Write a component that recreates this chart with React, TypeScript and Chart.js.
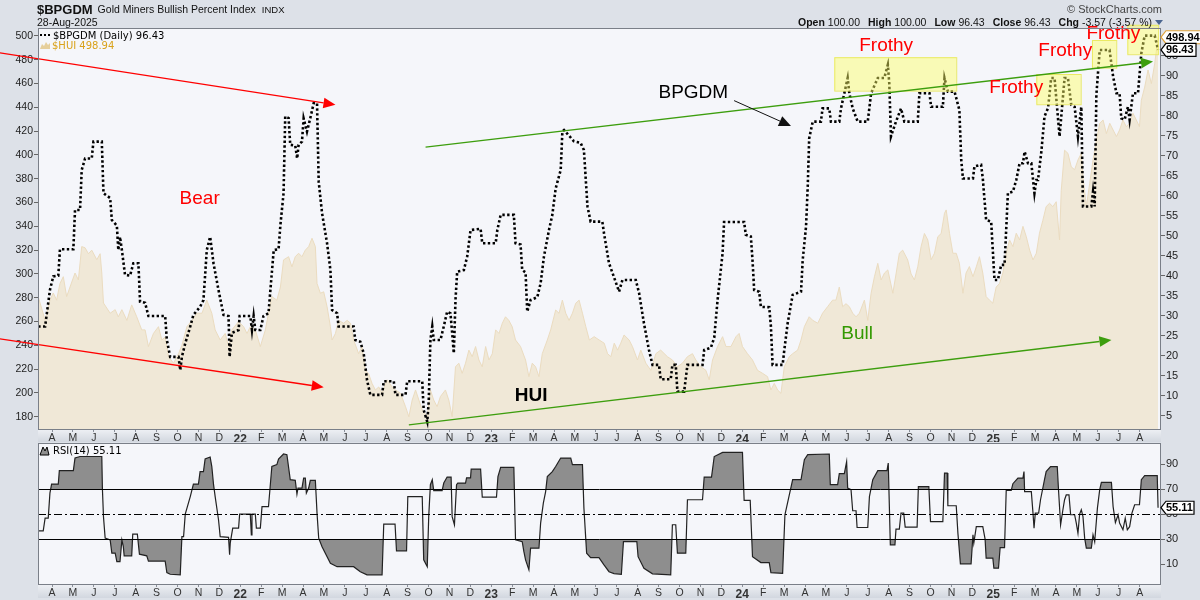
import React, { useEffect, useRef } from 'react';
import { Chart, registerables } from 'chart.js';

Chart.register(...registerables);

// ---------- data (x = months since Jan 2021) ----------
const X_MIN = 2.33;
const X_MAX = 56.02;
const monthLetters = ['J', 'F', 'M', 'A', 'M', 'J', 'J', 'A', 'S', 'O', 'N', 'D'];
const monthTicks: number[] = [];
for (let m = 3; m <= 55; m++) monthTicks.push(m);

const huiTicks = [180, 200, 220, 240, 260, 280, 300, 320, 340, 360, 380, 400, 420, 440, 460, 480, 500];
const bpgdmTicks = [5, 10, 15, 20, 25, 30, 35, 40, 45, 50, 55, 60, 65, 70, 75, 80, 85, 90, 95];
const rsiTicks = [10, 30, 50, 70, 90];
const rsiLevels = [30, 50, 70];

const bpgdmSeries: [number, number][] = [
  [2.34, 27.3], [2.67, 27.3], [2.9, 36.4], [3.06, 39.8], [3.3, 40], [3.38, 46.6], [4.02, 46.6], [4.1, 56.4], [4.34, 56.4],
  [4.42, 66.4], [4.58, 69.3], [4.9, 69.3], [4.98, 73.5], [5.38, 73.5], [5.46, 60.6], [5.78, 59.4], [5.86, 53.9], [6.1, 52.5],
  [6.17, 46.4], [6.25, 49.7], [6.34, 46.4], [6.49, 40.2], [6.73, 40], [6.89, 43.1], [7.13, 43.1], [7.21, 33.5], [7.45, 33.2],
  [7.61, 29.9], [8.41, 29.9], [8.49, 23.9], [8.65, 19.7], [9.05, 19.7], [9.13, 16.4], [9.21, 19.7], [9.37, 23.1], [9.61, 27.3],
  [9.76, 30.2], [10.08, 32.2], [10.24, 33.9], [10.4, 46.4], [10.56, 49.7], [10.72, 43.1], [10.96, 36.4], [11.2, 30.2],
  [11.44, 29.9], [11.49, 19.7], [11.6, 25.7], [11.92, 26.4], [11.97, 29.9], [12.48, 29.9], [12.56, 26.4], [12.64, 29.9],
  [12.72, 26.4], [12.96, 26.4], [13.11, 29.9], [13.35, 30.6], [13.44, 36.4], [13.6, 46.4], [13.83, 46.6], [13.92, 52.7],
  [14.07, 60.6], [14.15, 79.8], [14.31, 79.4], [14.39, 72.7], [14.63, 72.5], [14.72, 69.3], [14.79, 72.7], [14.95, 73.5],
  [15.03, 79.3], [15.19, 76], [15.35, 79.4], [15.51, 83.1], [15.67, 83.1], [15.75, 63.5], [15.91, 55.6], [16.15, 48.1],
  [16.31, 41.4], [16.39, 31.4], [16.63, 30.6], [16.7, 27.3], [17.42, 27.3], [17.5, 23.9], [17.74, 23.5], [17.9, 20.6],
  [18.06, 13.9], [18.22, 10.2], [18.78, 10.2], [18.86, 13.6], [19.34, 13.6], [19.42, 10.2], [19.9, 10.2], [19.98, 13.6],
  [20.7, 13.6], [20.77, 6.4], [20.94, 3.5], [21.01, 8.5], [21.09, 23.9], [21.18, 27.3], [21.25, 23.9], [21.57, 23.9],
  [21.73, 27.3], [21.89, 31], [22.05, 30.6], [22.13, 25.7], [22.21, 20.6], [22.29, 33.9], [22.37, 41], [22.69, 41.4],
  [22.85, 44.8], [23.01, 51.4], [23.49, 51.7], [23.57, 48.1], [24.21, 48.1], [24.29, 51.4], [24.45, 55.2], [25.08, 55.2],
  [25.16, 48.1], [25.4, 47.8], [25.48, 41.4], [25.64, 40.8], [25.72, 31], [25.88, 33.9], [26.2, 34.6], [26.36, 38.1],
  [26.52, 44.8], [26.76, 51.4], [26.92, 55.2], [27.08, 61.8], [27.32, 66.4], [27.4, 76], [27.48, 76.4], [27.95, 73.6],
  [28.27, 73.2], [28.43, 71.4], [28.6, 57.3], [28.75, 53.5], [29.31, 53.5], [29.39, 50.6], [29.63, 43.1], [29.87, 39.6],
  [30.11, 36], [30.27, 38.9], [30.91, 38.9], [31.07, 35.6], [31.3, 28.1], [31.54, 21.4], [31.71, 17.7], [32.02, 17.7],
  [32.1, 14.1], [32.58, 14.1], [32.66, 17.7], [32.82, 17.7], [32.9, 11], [33.22, 11], [33.38, 17.7], [34.1, 17.7],
  [34.18, 21.4], [34.5, 22], [34.66, 24.5], [34.82, 33.9], [35.06, 45.6], [35.13, 53.4], [36.09, 53.4], [36.17, 50.2],
  [36.41, 49.8], [36.49, 43.9], [36.57, 36.4], [36.81, 36], [36.89, 32.2], [37.29, 32.1], [37.37, 27.3], [37.45, 17.7],
  [37.93, 17.7], [38.01, 21.4], [38.17, 28.1], [38.41, 35.2], [38.81, 36], [38.89, 43.9], [39.05, 52.3], [39.13, 62.2],
  [39.2, 74.3], [39.37, 78.5], [39.76, 78.5], [39.84, 81.8], [40.16, 81.8], [40.24, 78.5], [40.64, 78.5], [40.72, 81.8],
  [40.88, 85.6], [41.04, 89.4], [41.12, 85.6], [41.28, 81.8], [41.52, 78.5], [42.0, 78.5], [42.16, 85.6], [42.48, 89.4],
  [42.79, 89.4], [42.96, 92.7], [43.03, 88], [43.11, 74.8], [43.35, 78.5], [43.59, 81.8], [43.75, 78.5], [44.39, 78.5],
  [44.47, 85.6], [44.95, 85.6], [45.03, 82.2], [45.59, 82.2], [45.67, 89.4], [45.83, 86], [46.15, 86], [46.38, 81.4],
  [46.47, 68.9], [46.55, 64.3], [47.03, 64.3], [47.1, 67.3], [47.42, 67.7], [47.5, 64.3], [47.66, 53.9], [47.9, 53.5],
  [48.06, 38.9], [48.22, 38.9], [48.38, 42.7], [48.54, 42.7], [48.7, 60.6], [48.94, 61], [49.1, 63.9], [49.26, 68.1],
  [49.42, 68.1], [49.5, 71], [49.66, 68.1], [49.82, 68.1], [49.97, 60.6], [50.06, 63.9], [50.14, 63.9], [50.3, 71],
  [50.45, 79.8], [50.62, 81.9], [50.77, 89.4], [50.93, 89.4], [51.17, 74.8], [51.41, 89.4], [51.57, 89.4], [51.73, 82.7],
  [51.89, 82.2], [52.05, 74.8], [52.21, 82.2], [52.29, 57.3], [52.69, 57.3], [52.77, 61], [52.85, 57.3], [52.93, 85.2],
  [53.09, 96.4], [53.56, 96.4], [53.73, 89.8], [53.89, 85.6], [54.04, 85.6], [54.12, 79.3], [54.28, 79], [54.44, 82.2],
  [54.52, 79], [54.68, 85.6], [54.92, 85.6], [55.08, 95.6], [55.24, 100], [55.72, 100], [55.88, 96.43],
];

const huiSeries: [number, number][] = [
  [2.34, 281], [2.67, 261], [2.9, 278], [3.06, 284], [3.22, 278], [3.38, 292], [3.54, 297.7], [3.7, 281], [3.86, 289],
  [4.1, 300.8], [4.26, 295], [4.42, 323], [4.58, 322], [4.74, 317], [4.9, 320], [5.14, 312], [5.3, 317], [5.38, 300.8],
  [5.46, 275.6], [5.78, 267], [6.02, 270], [6.17, 264], [6.34, 270], [6.58, 261], [6.81, 274], [7.05, 264], [7.29, 253],
  [7.45, 253], [7.61, 239], [7.85, 250], [8.09, 255.7], [8.25, 244.5], [8.41, 247], [8.57, 230.5], [8.81, 225], [9.05, 233],
  [9.21, 240], [9.45, 255.7], [9.69, 261], [9.93, 267], [10.17, 267], [10.4, 278], [10.64, 267], [10.8, 253], [11.04, 244.5],
  [11.28, 250], [11.44, 239], [11.6, 253], [11.92, 260], [12.16, 255.7], [12.32, 250], [12.48, 255.7], [12.72, 253],
  [12.96, 239], [13.2, 253], [13.35, 267], [13.51, 281], [13.75, 278], [13.92, 289], [14.07, 311.8], [14.31, 314.5],
  [14.47, 306], [14.63, 314.5], [14.79, 317.4], [14.95, 314.5], [15.11, 320], [15.27, 323], [15.43, 330], [15.59, 323],
  [15.67, 292], [15.83, 283.8], [15.99, 285], [16.15, 272.5], [16.31, 255.7], [16.39, 244.5], [16.55, 250], [16.7, 261],
  [16.94, 258.6], [17.11, 261], [17.27, 258.6], [17.42, 244.5], [17.66, 233], [17.82, 239], [17.98, 219], [18.14, 216],
  [18.3, 208], [18.46, 202.5], [18.62, 205], [18.78, 200], [19.02, 211], [19.26, 205], [19.42, 202.5], [19.66, 199.7],
  [19.9, 188.5], [20.06, 180], [20.22, 194], [20.38, 202.5], [20.54, 194], [20.7, 185.7], [20.94, 180], [21.09, 202.5],
  [21.25, 194], [21.41, 188.5], [21.57, 197], [21.81, 202.5], [21.97, 194], [22.13, 180], [22.29, 222], [22.45, 225],
  [22.61, 216.5], [22.77, 225], [22.93, 236], [23.09, 230.5], [23.25, 239], [23.41, 227.7], [23.57, 222], [23.73, 239],
  [23.89, 227.7], [24.05, 233], [24.21, 253], [24.37, 250], [24.53, 258.6], [24.68, 264], [24.84, 261], [25.0, 255.7],
  [25.16, 244.5], [25.4, 239], [25.64, 227.7], [25.8, 213.7], [25.96, 225], [26.12, 222], [26.28, 213.7], [26.44, 233],
  [26.68, 244.5], [26.84, 253], [27.08, 269.7], [27.24, 267], [27.4, 278], [27.56, 267], [27.72, 261], [27.88, 267],
  [28.04, 275.4], [28.2, 278], [28.36, 267], [28.52, 255.7], [28.69, 244.5], [28.92, 247.3], [29.16, 244.5], [29.4, 241.8],
  [29.56, 233], [29.72, 230.5], [29.88, 241.8], [30.04, 236], [30.19, 241.8], [30.35, 248.7], [30.59, 244.5], [30.75, 239],
  [30.99, 227.7], [31.15, 236], [31.39, 225], [31.63, 219], [31.87, 233], [32.1, 236], [32.42, 230.5], [32.66, 227.7],
  [32.9, 222], [33.14, 225], [33.38, 230.5], [33.62, 233], [33.78, 227.7], [34.02, 222], [34.26, 219], [34.42, 211],
  [34.58, 227.7], [34.82, 239], [35.06, 247.3], [35.22, 239], [35.46, 239], [35.7, 247.3], [35.85, 250], [36.01, 239],
  [36.25, 233], [36.49, 227.7], [36.73, 219], [36.97, 216.5], [37.21, 213.7], [37.37, 202.5], [37.53, 208], [37.69, 202.5],
  [37.85, 199.7], [38.01, 222], [38.25, 230.5], [38.41, 233], [38.65, 236], [38.81, 244.5], [38.97, 255.7], [39.2, 264],
  [39.37, 261], [39.61, 258.6], [39.84, 267], [40.08, 272.5], [40.32, 278], [40.48, 278], [40.64, 289], [40.8, 272.5],
  [40.96, 275], [41.12, 272.5], [41.28, 267], [41.44, 264], [41.6, 267], [41.84, 278], [42.0, 261], [42.16, 283.8],
  [42.32, 297.7], [42.48, 308.9], [42.64, 295], [42.8, 300.8], [42.96, 303.4], [43.2, 283.8], [43.36, 300.8], [43.51, 317.4],
  [43.67, 320], [43.91, 311.8], [44.07, 300], [44.23, 295], [44.39, 306], [44.55, 323], [44.71, 334], [44.87, 328.6],
  [45.03, 312], [45.19, 317.4], [45.35, 331.3], [45.51, 334], [45.67, 351], [45.75, 353.8], [45.91, 334], [46.07, 317.4],
  [46.23, 317.4], [46.38, 309], [46.55, 283.8], [46.7, 300.8], [46.86, 306.2], [47.03, 297.7], [47.19, 306], [47.34, 314.5],
  [47.5, 300.8], [47.66, 281], [47.82, 278], [47.98, 275.4], [48.14, 289], [48.3, 292], [48.46, 300.8], [48.62, 317.4],
  [48.78, 328.6], [48.94, 323], [49.1, 334.2], [49.26, 328.6], [49.42, 340], [49.58, 331.3], [49.74, 320], [49.9, 311.8],
  [50.06, 317.4], [50.21, 334.2], [50.37, 345], [50.53, 356.6], [50.69, 359.4], [50.85, 356.6], [51.01, 360.7],
  [51.17, 328.6], [51.25, 370], [51.41, 404], [51.57, 401.4], [51.73, 390], [51.89, 387.6], [52.05, 395.8], [52.21, 401.4],
  [52.29, 382], [52.45, 356.6], [52.61, 376], [52.77, 395.8], [52.93, 412], [53.09, 426.6], [53.25, 429.4], [53.41, 418],
  [53.57, 426.6], [53.73, 421], [53.89, 415.5], [54.04, 421], [54.2, 429.4], [54.36, 423.8], [54.52, 426.6], [54.68, 435],
  [54.84, 429.4], [54.99, 423.8], [55.08, 446], [55.24, 457], [55.4, 471.4], [55.56, 460], [55.72, 477], [55.88, 498.94],
];

const rsiSeries: [number, number][] = [
  [2.34, 36.7], [2.58, 36.7], [2.67, 46.8], [2.82, 46.8], [2.9, 66.8], [2.98, 74], [3.3, 74], [3.35, 84.7], [4.02, 84.7],
  [4.1, 94.8], [4.34, 96], [5.38, 96], [5.41, 70], [5.46, 48], [5.54, 30.8], [5.78, 29.3], [5.86, 18.8], [6.02, 18.8],
  [6.1, 12], [6.25, 12], [6.34, 29.3], [6.41, 24], [6.45, 16.7], [6.81, 16.7], [6.86, 34], [7.08, 34], [7.18, 18],
  [7.53, 16.7], [7.61, 12.5], [8.41, 12.5], [8.49, 3.3], [8.65, 2], [9.13, 1.5], [9.21, 32], [9.29, 32], [9.37, 50],
  [9.61, 64], [9.76, 74], [10.0, 74], [10.08, 84], [10.24, 84], [10.32, 94], [10.56, 95.6], [10.64, 88], [10.72, 74],
  [10.8, 64], [10.96, 45.5], [11.04, 32], [11.44, 31.5], [11.49, 17.5], [11.52, 26.8], [11.64, 38.8], [11.92, 38.8],
  [11.97, 50], [12.48, 50], [12.53, 33.5], [12.56, 50], [12.72, 50], [12.77, 38.8], [12.96, 38.8], [13.04, 56],
  [13.35, 56], [13.44, 74], [13.51, 88], [13.75, 89.5], [13.83, 94], [14.07, 98], [14.23, 97.5], [14.39, 77.5],
  [14.63, 77], [14.71, 66], [14.76, 70.8], [14.95, 70.8], [15.03, 78.8], [15.11, 78.8], [15.16, 66.8], [15.27, 70.8],
  [15.35, 77], [15.59, 77], [15.67, 50.8], [15.75, 30.8], [15.91, 24], [16.31, 10.8], [16.63, 8], [17.42, 8], [17.74, 4],
  [18.06, 1.5], [18.78, 1.5], [18.86, 42], [19.4, 42], [19.47, 20.7], [19.95, 20.7], [20.01, 64], [20.7, 64],
  [20.77, 13.5], [20.94, 8], [21.01, 48], [21.09, 73.5], [21.18, 77.5], [21.25, 68.7], [21.65, 68.7], [21.73, 74.8],
  [21.89, 79.6], [22.08, 79.6], [22.13, 48], [22.24, 41.5], [22.34, 73.5], [22.4, 74.8], [22.77, 74.8], [22.82, 79],
  [23.01, 79], [23.04, 86], [23.49, 86], [23.57, 63.6], [24.25, 63.6], [24.32, 80], [24.45, 87.3], [25.08, 87.3],
  [25.16, 29.5], [25.48, 28], [25.56, 20], [25.64, 13.5], [25.8, 5.5], [25.88, 22.8], [26.28, 22.8], [26.36, 42.8],
  [26.49, 58.8], [26.6, 68], [26.68, 80], [26.92, 84], [27.08, 88], [27.32, 94.8], [27.8, 94.8], [27.88, 89.5],
  [28.36, 89.5], [28.43, 54.8], [28.56, 18.8], [28.75, 15.3], [29.15, 15.3], [29.39, 9.5], [29.63, 4], [29.87, 2.5],
  [30.22, 2], [30.32, 28], [30.96, 28], [31.02, 16], [31.3, 6.8], [31.71, 2.3], [32.58, 1.5], [32.66, 41.5], [32.82, 41.5],
  [32.9, 18.8], [33.3, 18.8], [33.38, 61.5], [34.1, 61.5], [34.18, 79.6], [34.53, 79.6], [34.66, 96], [35.06, 99.3],
  [36.01, 99.3], [36.09, 61], [36.38, 61], [36.49, 16], [36.89, 11.3], [37.29, 11.3], [37.37, 3.3], [37.93, 2.7],
  [38.04, 49.5], [38.2, 61.5], [38.41, 77.5], [38.81, 77.5], [38.97, 93.5], [39.13, 97.5], [40.16, 98], [40.21, 73.5],
  [40.56, 73.5], [40.64, 82.3], [40.88, 82.3], [40.99, 91.9], [41.04, 70.8], [41.2, 69.5], [41.28, 52.7], [41.44, 52.7],
  [41.49, 39.3], [42.0, 39.3], [42.08, 64], [42.24, 77.5], [42.48, 84.7], [42.92, 84.7], [42.98, 90.8], [43.08, 25.5],
  [43.3, 25.5], [43.35, 38], [43.51, 38], [43.59, 50.8], [43.72, 50.8], [43.79, 39.6], [44.36, 39.6], [44.42, 72],
  [44.92, 72], [45.0, 44], [45.59, 44], [45.67, 82.8], [45.8, 82.8], [45.83, 56.7], [46.23, 56.7], [46.31, 34.8],
  [46.43, 10.3], [46.94, 10.3], [47.03, 33.5], [47.07, 26.8], [47.19, 40], [47.5, 40], [47.61, 30], [47.66, 14.8],
  [47.98, 14.8], [48.03, 6.8], [48.25, 6.8], [48.33, 23.3], [48.54, 23.3], [48.62, 69], [48.86, 69], [48.94, 74.3],
  [49.18, 78.8], [49.42, 78.8], [49.47, 84], [49.5, 68], [49.82, 68], [49.9, 50.8], [49.95, 38.8], [50.01, 50.8],
  [50.17, 50.8], [50.26, 61.5], [50.45, 77.5], [50.53, 84], [50.74, 88], [51.06, 88], [51.12, 69.5], [51.22, 41.5],
  [51.33, 53.5], [51.41, 61.5], [51.49, 65.3], [51.62, 65.3], [51.7, 49.5], [51.89, 49.5], [51.97, 42.8], [52.05, 34.8],
  [52.13, 50], [52.21, 53.5], [52.29, 48], [52.37, 30.8], [52.45, 22.8], [52.69, 22.8], [52.77, 33.5], [52.85, 28],
  [52.98, 54.8], [53.09, 69.5], [53.17, 75.3], [53.65, 75.3], [53.73, 56], [53.84, 43.3], [53.97, 49.5], [54.04, 42.8],
  [54.2, 37.5], [54.31, 46.8], [54.41, 37.5], [54.52, 40], [54.63, 50.8], [54.76, 57.5], [54.99, 57.5], [55.08, 77.5],
  [55.24, 80.7], [55.84, 80.7], [55.88, 55.11],
];

// ---------- text ----------
const titleSymbol = '$BPGDM';
const titleName = 'Gold Miners Bullish Percent Index';
const titleExchange = 'INDX';
const dateText = '28-Aug-2025';
const copyright = '\u00A9 StockCharts.com';
const ohlcLabels = ['Open', 'High', 'Low', 'Close', 'Chg'];
const ohlcValues = ['100.00', '100.00', '96.43', '96.43', '-3.57 (-3.57 %)'];
const bpgdmLegend = '$BPGDM (Daily) 96.43';
const huiLegend = '$HUI 498.94';
const rsiLegend = 'RSI(14) 55.11';
const huiLast = 498.94;
const bpgdmLast = 96.43;
const rsiLast = 55.11;

// ---------- annotations (data space: x = months, y = BPGDM scale) ----------
const arrowLines = [
  { x1: 0.51, y1: 95.7, x2: 16.55, y2: 82.7, color: '#ff0000', width: 1.3, head: 12 },
  { x1: 0.51, y1: 24.2, x2: 15.99, y2: 12.1, color: '#ff0000', width: 1.3, head: 12 },
  { x1: 20.86, y1: 72.1, x2: 55.64, y2: 93.5, color: '#3d9e0e', width: 1.3, head: 12 },
  { x1: 20.06, y1: 2.7, x2: 53.65, y2: 23.9, color: '#3d9e0e', width: 1.3, head: 12 },
  { x1: 35.61, y1: 83.75, x2: 38.33, y2: 77.4, color: '#111111', width: 1, head: 12 },
];
const frothyBoxes = [
  { x1: 40.4, x2: 46.23, y1: 94.6, y2: 86.25 },
  { x1: 50.06, x2: 52.18, y1: 90.4, y2: 82.85 },
  { x1: 52.72, x2: 53.88, y1: 98.9, y2: 92.0 },
  { x1: 54.41, x2: 55.88, y1: 102.7, y2: 95.35 },
];
const textNotes = [
  { text: 'Frothy', x: 42.88, y: 97.4, color: '#ff0000', bold: false },
  { text: 'Frothy', x: 49.1, y: 87.05, color: '#ff0000', bold: false },
  { text: 'Frothy', x: 51.44, y: 96.2, color: '#ff0000', bold: false },
  { text: 'Frothy', x: 53.74, y: 100.4, color: '#ff0000', bold: false },
  { text: 'Bear', x: 10.06, y: 59.2, color: '#ff0000', bold: false },
  { text: 'Bull', x: 41.49, y: 25.4, color: '#339900', bold: false },
  { text: 'HUI', x: 25.91, y: 10.05, color: '#000000', bold: true },
  { text: 'BPGDM', x: 33.66, y: 85.8, color: '#000000', bold: false },
];

// ---------- styles ----------
const SANS = '"Liberation Sans", Arial, sans-serif';
const DEJAVU = '"DejaVu Sans", Verdana, sans-serif';
const PLOT_BG = '#f5f6fa';
const FRAME_BG = '#dde1e8';
const HUI_FILL = '#f0e8d7';
const HUI_EDGE = '#ebdcc0';
const RSI_FILL = '#8e8e8e';

const monthLabel = (value: number) => {
  const v = Math.round(value);
  if (v % 12 === 0) return String(21 + v / 12);
  return monthLetters[v % 12];
};

function xAxis(height: number) {
  return {
    type: 'linear',
    position: 'bottom',
    min: X_MIN,
    max: X_MAX,
    afterBuildTicks: (s: any) => {
      s.ticks = monthTicks.map((v) => ({ value: v }));
    },
    afterFit: (s: any) => {
      s.height = height;
    },
    grid: { drawOnChartArea: false, drawTicks: true, tickLength: 3, color: '#8a8f99', lineWidth: 1 },
    border: { display: false },
    ticks: {
      autoSkip: false,
      maxRotation: 0,
      minRotation: 0,
      padding: 0,
      color: '#333',
      callback: monthLabel,
      font: (ctx: any) => {
        const isYear = ctx.tick && Math.round(ctx.tick.value) % 12 === 0;
        return { family: SANS, size: isYear ? 12 : 10.5, weight: isYear ? 'bold' : 'normal' };
      },
    },
  };
}

function drawStrip(ctx: CanvasRenderingContext2D, left: number, right: number, top: number, h: number) {
  const g = ctx.createLinearGradient(0, top, 0, top + h);
  g.addColorStop(0, '#eff1f5');
  g.addColorStop(1, '#d2d7df');
  ctx.fillStyle = g;
  ctx.fillRect(left, top, right - left, h);
}

function drawArrow(ctx: CanvasRenderingContext2D, x1: number, y1: number, x2: number, y2: number, color: string, width: number, head: number) {
  const ang = Math.atan2(y2 - y1, x2 - x1);
  const bx = x2 - Math.cos(ang) * head;
  const by = y2 - Math.sin(ang) * head;
  ctx.strokeStyle = color;
  ctx.lineWidth = width;
  ctx.beginPath();
  ctx.moveTo(x1, y1);
  ctx.lineTo(bx, by);
  ctx.stroke();
  const hw = head * 0.45;
  ctx.fillStyle = color;
  ctx.beginPath();
  ctx.moveTo(x2, y2);
  ctx.lineTo(bx + Math.sin(ang) * hw, by - Math.cos(ang) * hw);
  ctx.lineTo(bx - Math.sin(ang) * hw, by + Math.cos(ang) * hw);
  ctx.closePath();
  ctx.fill();
}

function drawValueBox(ctx: CanvasRenderingContext2D, x: number, y: number, text: string, border: string, w: number) {
  const h = 13;
  ctx.beginPath();
  ctx.moveTo(x, y);
  ctx.lineTo(x + 5, y - h / 2);
  ctx.lineTo(x + w, y - h / 2);
  ctx.lineTo(x + w, y + h / 2);
  ctx.lineTo(x + 5, y + h / 2);
  ctx.closePath();
  ctx.fillStyle = '#ffffff';
  ctx.fill();
  ctx.strokeStyle = border;
  ctx.lineWidth = 1.2;
  ctx.stroke();
  ctx.fillStyle = '#000';
  ctx.font = `bold 11px ${SANS}`;
  ctx.textAlign = 'left';
  ctx.textBaseline = 'middle';
  ctx.fillText(text, x + 5, y + 0.5);
}

const mainPlugin = {
  id: 'mainDecor',
  beforeDraw(chart: any) {
    const { ctx, chartArea: a } = chart;
    ctx.save();
    ctx.fillStyle = PLOT_BG;
    ctx.fillRect(a.left, a.top, a.right - a.left, a.bottom - a.top);
    drawStrip(ctx, a.left, a.right, a.bottom, 13);
    ctx.restore();
  },
  afterDatasetsDraw(chart: any) {
    const { ctx } = chart;
    const xs = chart.scales.x;
    const ys = chart.scales.y2;
    ctx.save();
    frothyBoxes.forEach((b) => {
      const x1 = xs.getPixelForValue(b.x1);
      const x2 = xs.getPixelForValue(b.x2);
      const y1 = ys.getPixelForValue(b.y1);
      const y2 = ys.getPixelForValue(b.y2);
      ctx.fillStyle = 'rgba(255,255,100,0.45)';
      ctx.fillRect(x1, y1, x2 - x1, y2 - y1);
      ctx.strokeStyle = 'rgba(232,232,90,0.9)';
      ctx.lineWidth = 1;
      ctx.strokeRect(x1 + 0.5, y1 + 0.5, x2 - x1, y2 - y1);
    });
    arrowLines.forEach((l) => {
      drawArrow(
        ctx,
        xs.getPixelForValue(l.x1),
        ys.getPixelForValue(l.y1),
        xs.getPixelForValue(l.x2),
        ys.getPixelForValue(l.y2),
        l.color,
        l.width,
        l.head,
      );
    });
    ctx.textAlign = 'center';
    ctx.textBaseline = 'middle';
    textNotes.forEach((t) => {
      ctx.font = `${t.bold ? 'bold ' : ''}19px ${SANS}`;
      ctx.fillStyle = t.color;
      ctx.fillText(t.text, xs.getPixelForValue(t.x), ys.getPixelForValue(t.y));
    });
    ctx.restore();
  },
  afterDraw(chart: any) {
    const { ctx, chartArea: a } = chart;
    ctx.save();
    // plot border
    ctx.strokeStyle = '#7a7f88';
    ctx.lineWidth = 1;
    ctx.strokeRect(a.left + 0.5, a.top + 0.5, a.right - a.left - 1, a.bottom - a.top);
    // header
    ctx.textBaseline = 'alphabetic';
    ctx.textAlign = 'left';
    ctx.fillStyle = '#111';
    let hx = 37;
    ctx.font = `bold 13px ${SANS}`;
    ctx.fillText(titleSymbol, hx, 14);
    hx += ctx.measureText(titleSymbol).width + 5;
    ctx.font = `10.5px ${SANS}`;
    ctx.fillText(titleName, hx, 13);
    hx += ctx.measureText(titleName).width + 6;
    ctx.font = `9.5px ${SANS}`;
    ctx.fillText(titleExchange, hx, 13);
    ctx.font = `10.5px ${SANS}`;
    ctx.fillText(dateText, 37, 26);
    ctx.textAlign = 'right';
    ctx.fillStyle = '#444';
    ctx.font = `11px ${SANS}`;
    ctx.fillText(copyright, 1162, 13);
    let x = 1152;
    ctx.fillStyle = '#111';
    for (let i = ohlcLabels.length - 1; i >= 0; i--) {
      ctx.font = `10.5px ${SANS}`;
      ctx.fillText(ohlcValues[i], x, 26);
      x -= ctx.measureText(ohlcValues[i]).width + 3;
      ctx.font = `bold 10.5px ${SANS}`;
      ctx.fillText(ohlcLabels[i], x, 26);
      x -= ctx.measureText(ohlcLabels[i]).width + 8;
    }
    ctx.fillStyle = '#4a6590';
    ctx.beginPath();
    ctx.moveTo(1155, 20);
    ctx.lineTo(1163, 20);
    ctx.lineTo(1159, 25);
    ctx.closePath();
    ctx.fill();
    // legend
    ctx.textAlign = 'left';
    ctx.fillStyle = '#000';
    for (let i = 0; i < 3; i++) ctx.fillRect(a.left + 2 + i * 4, a.top + 6, 2, 2);
    ctx.font = `10px ${DEJAVU}`;
    ctx.fillText(bpgdmLegend, a.left + 15, a.top + 11);
    ctx.fillStyle = '#e6cf9c';
    ctx.beginPath();
    ctx.moveTo(a.left + 2, a.top + 21);
    ctx.lineTo(a.left + 4, a.top + 16);
    ctx.lineTo(a.left + 6, a.top + 18);
    ctx.lineTo(a.left + 8, a.top + 14);
    ctx.lineTo(a.left + 10, a.top + 17);
    ctx.lineTo(a.left + 12, a.top + 15);
    ctx.lineTo(a.left + 12, a.top + 21);
    ctx.closePath();
    ctx.fill();
    ctx.fillStyle = '#d9a21b';
    ctx.fillText(huiLegend, a.left + 14, a.top + 21);
    // last value boxes
    drawValueBox(ctx, a.right, chart.scales.y.getPixelForValue(huiLast), huiLast.toFixed(2), '#e0a33a', 40);
    drawValueBox(ctx, a.right, chart.scales.y2.getPixelForValue(bpgdmLast), bpgdmLast.toFixed(2), '#000', 35);
    ctx.restore();
  },
};

const rsiPlugin = {
  id: 'rsiDecor',
  beforeDraw(chart: any) {
    const { ctx, chartArea: a } = chart;
    ctx.save();
    ctx.fillStyle = PLOT_BG;
    ctx.fillRect(a.left, a.top, a.right - a.left, a.bottom - a.top);
    drawStrip(ctx, a.left, a.right, a.bottom, 14);
    ctx.restore();
  },
  afterDatasetsDraw(chart: any) {
    const { ctx, chartArea: a } = chart;
    const ys = chart.scales.y;
    ctx.save();
    ctx.strokeStyle = '#000';
    ctx.lineWidth = 1;
    rsiLevels.forEach((lv) => {
      const y = Math.round(ys.getPixelForValue(lv)) + 0.5;
      ctx.setLineDash(lv === 50 ? [8, 3, 2, 3] : []);
      ctx.beginPath();
      ctx.moveTo(a.left, y);
      ctx.lineTo(a.right, y);
      ctx.stroke();
    });
    ctx.restore();
  },
  afterDraw(chart: any) {
    const { ctx, chartArea: a } = chart;
    ctx.save();
    ctx.strokeStyle = '#7a7f88';
    ctx.lineWidth = 1;
    ctx.strokeRect(a.left + 0.5, a.top + 0.5, a.right - a.left - 1, a.bottom - a.top);
    // legend icon + text
    ctx.fillStyle = '#8e8e8e';
    ctx.strokeStyle = '#000';
    ctx.beginPath();
    ctx.moveTo(a.left + 2, a.top + 12);
    ctx.lineTo(a.left + 5, a.top + 4);
    ctx.lineTo(a.left + 7, a.top + 8);
    ctx.lineTo(a.left + 9, a.top + 4);
    ctx.lineTo(a.left + 11, a.top + 12);
    ctx.closePath();
    ctx.fill();
    ctx.stroke();
    ctx.fillStyle = '#000';
    ctx.font = `10px ${DEJAVU}`;
    ctx.textAlign = 'left';
    ctx.textBaseline = 'alphabetic';
    ctx.fillText(rsiLegend, a.left + 15, a.top + 11);
    drawValueBox(ctx, a.right, chart.scales.y.getPixelForValue(rsiLast), rsiLast.toFixed(2), '#000', 33);
    ctx.restore();
  },
};

function yAxisCommon(pos: 'left' | 'right', width: number, min: number, max: number, ticks: number[], size: number) {
  return {
    type: 'linear',
    position: pos,
    min,
    max,
    afterBuildTicks: (s: any) => {
      s.ticks = ticks.map((v) => ({ value: v }));
    },
    afterFit: (s: any) => {
      s.width = width;
    },
    grid: { drawOnChartArea: false, drawTicks: true, tickLength: 4, color: '#666' },
    border: { display: false },
    ticks: { padding: 1, color: '#222', font: { family: SANS, size } },
  };
}

export default function App() {
  const mainRef = useRef<HTMLCanvasElement>(null);
  const rsiRef = useRef<HTMLCanvasElement>(null);

  useEffect(() => {
    const main = new Chart(mainRef.current as HTMLCanvasElement, {
      type: 'line',
      data: {
        datasets: [
          {
            label: 'BPGDM',
            data: bpgdmSeries.map(([t, v]) => ({ x: t, y: v })),
            yAxisID: 'y2',
            borderColor: '#000',
            borderWidth: 2.6,
            borderDash: [2.4, 2.4],
            borderCapStyle: 'butt',
            pointRadius: 0,
            fill: false,
            tension: 0,
            order: 0,
          },
          {
            label: 'HUI',
            data: huiSeries.map(([t, v]) => ({ x: t, y: v })),
            yAxisID: 'y',
            borderColor: HUI_EDGE,
            borderWidth: 1,
            backgroundColor: HUI_FILL,
            pointRadius: 0,
            fill: 'start',
            tension: 0,
            order: 1,
          },
        ],
      } as any,
      options: {
        responsive: false,
        animation: false,
        events: [],
        layout: { padding: { top: 28, bottom: 158, left: 0, right: 0 } },
        plugins: { legend: { display: false }, tooltip: { enabled: false } },
        scales: {
          x: xAxis(13),
          y: yAxisCommon('left', 38, 169.7, 506.7, huiTicks, 10.5),
          y2: yAxisCommon('right', 39, 1.67, 101.9, bpgdmTicks, 11),
        } as any,
      },
      plugins: [mainPlugin],
    } as any);

    const rsi = new Chart(rsiRef.current as HTMLCanvasElement, {
      type: 'line',
      data: {
        datasets: [
          {
            label: 'RSI',
            data: rsiSeries.map(([t, v]) => ({ x: t, y: v })),
            borderColor: '#222',
            borderWidth: 1.2,
            pointRadius: 0,
            tension: 0,
            fill: { target: { value: 70 }, above: RSI_FILL, below: 'rgba(0,0,0,0)' },
            order: 0,
          },
          {
            label: 'RSI low',
            data: rsiSeries.map(([t, v]) => ({ x: t, y: v })),
            borderWidth: 0,
            borderColor: 'rgba(0,0,0,0)',
            pointRadius: 0,
            tension: 0,
            fill: { target: { value: 30 }, above: 'rgba(0,0,0,0)', below: RSI_FILL },
            order: 1,
          },
        ],
      } as any,
      options: {
        responsive: false,
        animation: false,
        events: [],
        layout: { padding: { top: 443, bottom: 0, left: 38, right: 0 } },
        plugins: { legend: { display: false }, tooltip: { enabled: false } },
        scales: {
          x: xAxis(16),
          y: yAxisCommon('right', 39, -5.8, 106.8, rsiTicks, 11),
        } as any,
      },
      plugins: [rsiPlugin],
    } as any);

    return () => {
      main.destroy();
      rsi.destroy();
    };
  }, []);

  return (
    <div
      style={{
        position: 'fixed',
        left: 0,
        top: 0,
        width: 1200,
        height: 600,
        background: FRAME_BG,
        overflow: 'hidden',
      }}
    >
      <canvas ref={mainRef} width={1200} height={600} style={{ position: 'absolute', left: 0, top: 0 }} />
      <canvas
        ref={rsiRef}
        width={1200}
        height={600}
        style={{ position: 'absolute', left: 0, top: 0, pointerEvents: 'none' }}
      />
    </div>
  );
}
